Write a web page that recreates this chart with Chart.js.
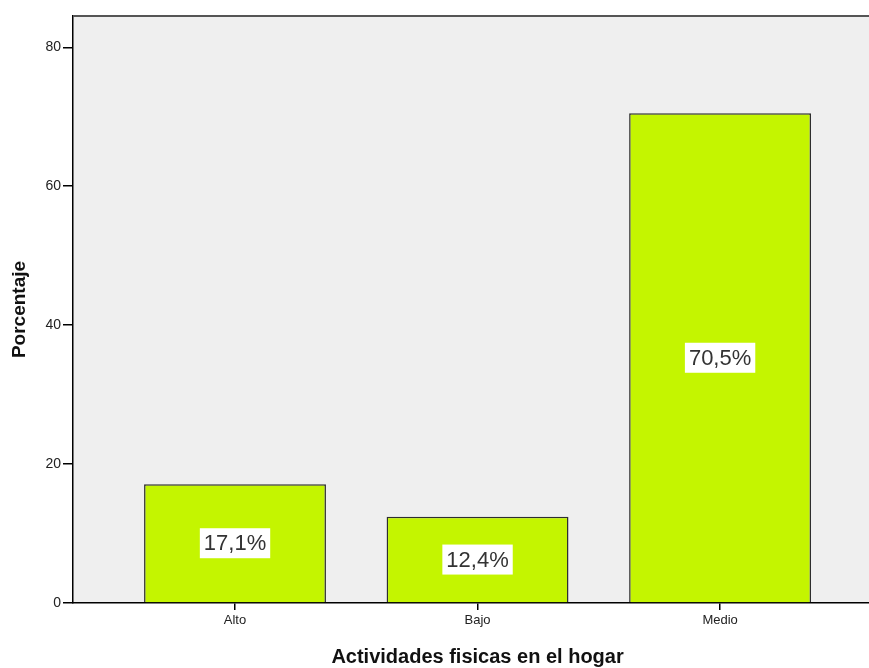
<!DOCTYPE html>
<html>
<head>
<meta charset="utf-8">
<script src="https://cdn.jsdelivr.net/npm/chart.js@4.4.1/dist/chart.umd.min.js"></script>
<style>
  html, body { margin: 0; padding: 0; background: #fff; }
  #wrap { width: 869px; height: 668px; }
</style>
</head>
<body>
<div id="wrap"><canvas id="actividadesChart" width="869" height="668"></canvas></div>
<script>
const categorias = ['Alto', 'Bajo', 'Medio'];
const porcentajes = [17.1, 12.4, 70.5];
const etiquetas = ['17,1%', '12,4%', '70,5%'];
const yTicks = [0, 20, 40, 60, 80];

const FONT = '"Liberation Sans", Arial, sans-serif';

// fondo gris del area del grafico + borde superior
const fondoPlugin = {
    id: 'fondo',
    beforeDraw(chart) {
        const { ctx, chartArea } = chart;
        ctx.save();
        ctx.fillStyle = '#efefef';
        ctx.fillRect(chartArea.left, chartArea.top, chartArea.right - chartArea.left, chartArea.bottom - chartArea.top);
        ctx.restore();
    },
    afterDraw(chart) {
        const { ctx, chartArea } = chart;
        ctx.save();
        ctx.strokeStyle = '#555';
        ctx.lineWidth = 2;
        ctx.beginPath();
        ctx.moveTo(chartArea.left, chartArea.top);
        ctx.lineTo(chartArea.right, chartArea.top);
        ctx.stroke();

        // titulo del eje x, centrado en las categorias
        const xs = chart.scales.x;
        ctx.fillStyle = '#111';
        ctx.font = 'bold 20px ' + FONT;
        ctx.textAlign = 'center';
        ctx.textBaseline = 'middle';
        ctx.fillText('Actividades fisicas en el hogar', xs.getPixelForValue(2), 657);
        ctx.restore();
    }
};

// etiquetas de porcentaje dentro de las barras
const etiquetasPlugin = {
    id: 'etiquetas',
    afterDatasetsDraw(chart) {
        const { ctx } = chart;
        const meta = chart.getDatasetMeta(0);
        ctx.save();
        ctx.font = '22px ' + FONT;
        ctx.textAlign = 'center';
        ctx.textBaseline = 'middle';
        meta.data.forEach((bar, i) => {
            const txt = etiquetas[i];
            const w = ctx.measureText(txt).width + 8;
            const h = 30;
            const cy = (bar.y + bar.base) / 2;
            ctx.fillStyle = '#ffffff';
            ctx.fillRect(bar.x - w / 2, cy - h / 2, w, h);
            ctx.fillStyle = '#333';
            ctx.fillText(txt, bar.x, cy + 1);
        });
        ctx.restore();
    }
};

const data = {
    datasets: [{
        label: 'Porcentaje',
        backgroundColor: '#c4f500',
        borderColor: '#2e2e2e',
        borderWidth: 1.5,
        barPercentage: 0.75,
        categoryPercentage: 1,
        data: categorias.map((c, i) => ({ x: i + 1, y: porcentajes[i] }))
    }]
};

const config = {
    type: 'bar',
    data: data,
    options: {
        responsive: false,
        animation: false,
        layout: { padding: { top: 16, right: 0, left: 0, bottom: 0 } },
        plugins: {
            legend: { display: false },
            tooltip: { enabled: false }
        },
        scales: {
            x: {
                type: 'linear',
                offset: false,
                min: 0.332,
                max: 3.614,
                afterBuildTicks: (s) => { s.ticks = categorias.map((c, i) => ({ value: i + 1 })); },
                afterFit: (s) => { s.height = 65; },
                ticks: {
                    callback: (v) => categorias[v - 1],
                    font: { family: FONT, size: 13 },
                    color: '#222',
                    padding: 3,
                    maxRotation: 0
                },
                grid: { offset: false, drawOnChartArea: false, drawTicks: true, tickLength: 7, color: '#000', lineWidth: 1.5 },
                border: { display: true, color: '#000', width: 1.5 }
            },
            y: {
                min: 0,
                max: 84.5,
                afterBuildTicks: (s) => { s.ticks = yTicks.map(v => ({ value: v })); },
                afterFit: (s) => { s.width = 73; },
                ticks: {
                    font: { family: FONT, size: 14 },
                    color: '#222',
                    padding: 2
                },
                grid: { drawOnChartArea: false, drawTicks: true, tickLength: 10, color: '#000', lineWidth: 1.5 },
                border: { display: true, color: '#000', width: 1.5 },
                title: {
                    display: true,
                    text: 'Porcentaje',
                    color: '#111',
                    font: { family: FONT, size: 19, weight: 'bold', lineHeight: 1 },
                    padding: { top: 10, bottom: 0 }
                }
            }
        }
    },
    plugins: [fondoPlugin, etiquetasPlugin]
};

// eslint-disable-next-line
const actividadesChart = new Chart(
    document.getElementById('actividadesChart'),
    config
);
</script>
</body>
</html>
